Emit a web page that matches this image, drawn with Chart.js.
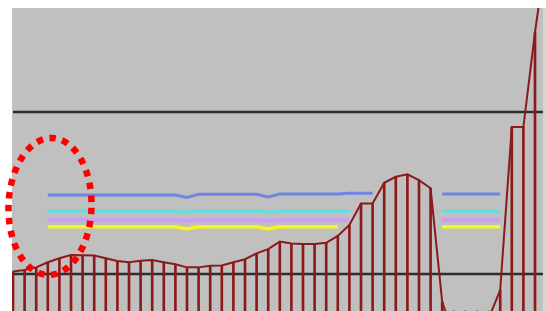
<!DOCTYPE html>
<html>
<head>
<meta charset="utf-8">
<script src="https://cdn.jsdelivr.net/npm/chart.js@4"></script>
<style>
  html, body { margin:0; padding:0; background:#fff; overflow:hidden; }
  canvas { display:block; }
</style>
</head>
<body>
<canvas id="chart" width="546" height="311"></canvas>
<script>
// sample index (x), one per measurement
const periods = [0,1,2,3,4,5,6,7,8,9,10,11,12,13,14,15,16,17,18,19,20,21,22,23,24,25,26,27,28,29,30,31,32,33,34,35,36,37,38,39,40,41,42,43,44,45,46];

const processValues = [13.0,13.5,14.4,16.1,17.4,18.5,18.4,18.3,17.4,16.5,16.1,16.6,16.8,16.1,15.4,14.4,14.4,14.9,15.0,16.1,17.1,19.0,20.4,22.9,22.3,22.1,22.1,22.5,24.8,28.4,35.5,35.5,42.3,44.3,45.1,43.2,40.5,3.0,-8,-10,-10,-2.5,6.9,60.7,60.7,92.0,119];

// reference bands (null = not shown)
const blueLine   = [null,null,null,38.3,38.3,38.3,38.3,38.3,38.3,38.3,38.3,38.3,38.3,38.3,38.3,37.5,38.5,38.5,38.5,38.5,38.5,38.5,37.6,38.6,38.6,38.6,38.6,38.6,38.6,38.9,38.9,38.9,null,null,null,null,null,38.6,38.6,38.6,38.6,38.6,38.6,null,null,null,null];
const cyanLine   = [null,null,null,33.0,33.0,33.0,33.0,33.0,33.0,33.0,33.0,33.0,33.0,33.0,33.0,32.5,33.0,33.0,33.0,33.0,33.0,33.0,32.5,33.0,33.0,33.0,33.0,33.0,33.0,33.0,null,null,null,null,null,null,null,33.0,33.0,33.0,33.0,33.0,33.0,null,null,null,null];
const pinkLine   = [null,null,null,30.0,30.0,30.0,30.0,30.0,30.0,30.0,30.0,30.0,30.0,30.0,30.0,29.7,30.0,30.0,30.0,30.0,30.0,30.0,29.7,30.0,30.0,30.0,30.0,30.0,30.0,30.0,null,null,null,null,null,null,null,30.0,30.0,30.0,30.0,30.0,30.0,null,null,null,null];
const yellowLine = [null,null,null,27.8,27.8,27.8,27.8,27.8,27.8,27.8,27.8,27.8,27.8,27.8,27.8,27.1,27.8,27.8,27.8,27.8,27.8,27.8,27.1,27.8,27.8,27.8,27.8,27.8,27.8,null,null,null,null,null,null,null,null,27.8,27.8,27.8,27.8,27.8,27.8,null,null,null,null];

// control limits
const upperLimit = 65.7;
const lowerLimit = 12.2;

function pts(arr){ return periods.map((x,i)=> ({x:x, y:arr[i]})); }
const upperPts = periods.map(x => ({x:x, y:upperLimit}));
const lowerPts = periods.map(x => ({x:x, y:lowerLimit}));

const maroon = '#8b1a1a';

/* grey plot background */
const plotBg = {
  id:'plotBg',
  beforeDraw(chart){
    const {ctx, chartArea:a} = chart;
    ctx.save();
    ctx.fillStyle = '#fff';
    ctx.fillRect(0,0,chart.width,chart.height);
    ctx.fillStyle = '#c0c0c0';
    ctx.fillRect(a.left, a.top, a.right-a.left, a.bottom-a.top);
    ctx.fillStyle = '#d6d6d6';
    ctx.fillRect(a.right, a.top, chart.width-a.right, a.bottom-a.top);
    ctx.restore();
  }
};

/* red dotted ellipse highlight */
const highlight = {
  id:'highlight',
  afterDraw(chart){
    const ctx = chart.ctx;
    ctx.save();
    ctx.strokeStyle = '#ff0000';
    ctx.lineWidth = 6.5;
    ctx.setLineDash([6.5, 6.5]);
    ctx.beginPath();
    ctx.ellipse(50, 206.5, 41.5, 68.5, 0.03, 0, Math.PI*2);
    ctx.stroke();
    ctx.restore();
  }
};

const lineOpts = { pointRadius:0, tension:0, spanGaps:false, fill:false, clip:0 };

new Chart(document.getElementById('chart'), {
  data: {
    datasets: [
      { type:'line', label:'process', data: pts(processValues), borderColor: maroon, borderWidth:2, ...lineOpts },
      { type:'bar', label:'drops', data: pts(processValues), backgroundColor: maroon, barThickness:2, clip:0 },
      { type:'line', label:'blue', data: pts(blueLine), borderColor:'rgb(111,134,226)', borderWidth:3, ...lineOpts },
      { type:'line', label:'cyan', data: pts(cyanLine), borderColor:'rgb(98,222,222)', borderWidth:3.5, ...lineOpts },
      { type:'line', label:'pink', data: pts(pinkLine), borderColor:'rgb(200,160,240)', borderWidth:4.5, ...lineOpts },
      { type:'line', label:'yellow', data: pts(yellowLine), borderColor:'rgb(246,246,30)', borderWidth:3.5, ...lineOpts },
      { type:'line', label:'ucl', data: upperPts, borderColor:'#2e2e2e', borderWidth:2.5, ...lineOpts },
      { type:'line', label:'lcl', data: lowerPts, borderColor:'#2e2e2e', borderWidth:2.5, ...lineOpts }
    ]
  },
  options: {
    responsive:false,
    animation:false,
    devicePixelRatio:1,
    layout:{ padding:{ left:12, top:8, right:3, bottom:0 } },
    plugins:{ legend:{display:false}, tooltip:{enabled:false} },
    scales:{
      x:{ type:'linear', min:-0.0862, max:45.69, offset:false, bounds:'data', display:false, grid:{display:false, offset:false} },
      y:{ min:0, max:100, display:false, grid:{display:false} }
    }
  },
  plugins:[plotBg, highlight]
});
</script>
</body>
</html>
